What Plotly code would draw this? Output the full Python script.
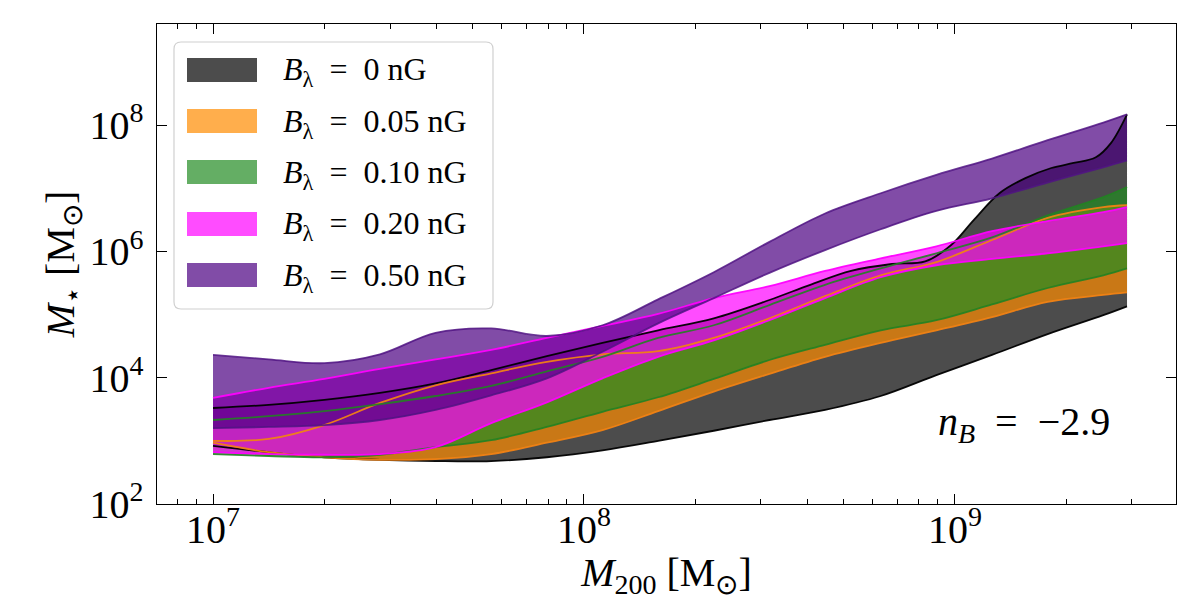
import numpy as np
import plotly.graph_objects as go

# ---------------- data (log10 values) ----------------
log_m200 = [7.0, 7.15, 7.3, 7.45, 7.6, 7.75, 7.9, 8.05, 8.2, 8.35, 8.5, 8.65,
            8.8, 8.95, 9.1, 9.25, 9.4, 9.464]

# B = 0 nG upper edge sampled on a finer grid (has a wiggle at high mass)
log_m200_b0_hi = [7.0, 7.15, 7.3, 7.45, 7.6, 7.75, 7.9, 8.05, 8.2, 8.35, 8.5,
                  8.61, 8.72, 8.83, 8.92, 8.99, 9.05, 9.12, 9.19, 9.26, 9.32,
                  9.38, 9.42, 9.464]

b0_lo = [2.92, 2.82, 2.74, 2.70, 2.68, 2.68, 2.74, 2.85, 3.00, 3.16, 3.33, 3.49,
         3.71, 4.04, 4.36, 4.69, 4.99, 5.13]
b0_hi = [3.52, 3.57, 3.65, 3.76, 3.91, 4.12, 4.34, 4.55, 4.75, 4.94, 5.23, 5.47,
         5.69, 5.80, 5.84, 6.10, 6.49, 6.92, 7.16, 7.32, 7.40, 7.49, 7.71, 8.17]

b005_lo = [2.97, 2.82, 2.74, 2.70, 2.71, 2.79, 2.97, 3.17, 3.47, 3.78, 4.06, 4.33,
           4.55, 4.75, 4.96, 5.20, 5.31, 5.35]
b005_hi = [3.00, 3.03, 3.25, 3.60, 3.88, 4.07, 4.25, 4.37, 4.42, 4.63, 4.94, 5.29,
           5.62, 5.83, 6.18, 6.53, 6.70, 6.73]

b010_lo = [2.79, 2.76, 2.74, 2.78, 2.90, 3.01, 3.22, 3.46, 3.69, 3.98, 4.28, 4.52,
           4.75, 4.91, 5.16, 5.42, 5.62, 5.73]
b010_hi = [3.33, 3.39, 3.47, 3.58, 3.71, 3.87, 4.10, 4.33, 4.63, 4.83, 5.15, 5.47,
           5.73, 5.97, 6.22, 6.57, 6.86, 7.02]

b020_lo = [2.82, 2.79, 2.78, 2.79, 2.90, 3.28, 3.61, 3.99, 4.33, 4.59, 4.91, 5.26,
           5.59, 5.78, 5.88, 5.97, 6.08, 6.13]
b020_hi = [3.68, 3.84, 3.98, 4.14, 4.29, 4.44, 4.63, 4.82, 5.01, 5.26, 5.45, 5.69,
           5.89, 6.08, 6.32, 6.48, 6.62, 6.70]

b050_lo = [3.20, 3.22, 3.25, 3.33, 3.49, 3.72, 3.99, 4.41, 4.86, 5.26, 5.66, 6.02,
           6.35, 6.64, 6.84, 7.09, 7.33, 7.44]
b050_hi = [4.36, 4.29, 4.23, 4.37, 4.71, 4.78, 4.66, 4.83, 5.24, 5.67, 6.15, 6.60,
           6.92, 7.21, 7.47, 7.76, 8.04, 8.17]

labels = ["0", "0.05", "0.10", "0.20", "0.50"]
colors_rgb = [(0, 0, 0), (255, 140, 0), (34, 139, 34), (255, 0, 255), (75, 0, 130)]
edge_rgba = ["rgba(0,0,0,0.95)", "rgba(240,130,20,0.95)", "rgba(34,130,34,0.9)",
             "rgba(255,0,255,0.95)", "rgba(80,20,130,0.85)"]
annot_text = "<i>n</i><sub><i>B</i></sub>\u2002=\u2002\u22122.9"

bands = [
    (log_m200, b0_lo, log_m200_b0_hi, b0_hi),
    (log_m200, b005_lo, log_m200, b005_hi),
    (log_m200, b010_lo, log_m200, b010_hi),
    (log_m200, b020_lo, log_m200, b020_hi),
    (log_m200, b050_lo, log_m200, b050_hi),
]

FONT = "Liberation Serif"
ALPHA = 0.7


def rgba(c, a):
    return f"rgba({c[0]},{c[1]},{c[2]},{a})"


fig = go.Figure()
# fills first
for (xl, yl, xh, yh), c in zip(bands, colors_rgb):
    fig.add_trace(go.Scatter(
        x=10 ** np.array(xl), y=10 ** np.array(yl), mode="lines",
        line=dict(color="rgba(0,0,0,0)", width=0, shape="spline"),
        showlegend=False, hoverinfo="skip"))
    fig.add_trace(go.Scatter(
        x=10 ** np.array(xh), y=10 ** np.array(yh), mode="lines",
        fill="tonexty", fillcolor=rgba(c, ALPHA),
        line=dict(color="rgba(0,0,0,0)", width=0, shape="spline"),
        showlegend=False, hoverinfo="skip"))
# edge lines on top
for (xl, yl, xh, yh), ec in zip(bands, edge_rgba):
    for xx, yy in ((xl, yl), (xh, yh)):
        fig.add_trace(go.Scatter(
            x=10 ** np.array(xx), y=10 ** np.array(yy), mode="lines",
            line=dict(color=ec, width=1.8, shape="spline"),
            showlegend=False, hoverinfo="skip"))

# ---------------- layout ----------------
L, R, T, B = 157, 24, 24, 96
W, H = 1200, 600
PW, PH = W - L - R, H - T - B


def px(xp):
    return (xp - L) / PW


def py(yp):
    return (H - B - yp) / PH


shapes = []
annotations = []

# legend frame (rounded)
x0, x1, y0, y1 = px(174), px(493), py(309), py(42)
rx, ry = 7 / PW, 7 / PH
path = (f"M {x0+rx},{y0} L {x1-rx},{y0} Q {x1},{y0} {x1},{y0+ry} "
        f"L {x1},{y1-ry} Q {x1},{y1} {x1-rx},{y1} L {x0+rx},{y1} "
        f"Q {x0},{y1} {x0},{y1-ry} L {x0},{y0+ry} Q {x0},{y0} {x0+rx},{y0} Z")
shapes.append(dict(type="path", xref="paper", yref="paper", path=path,
                   fillcolor="rgba(255,255,255,0.8)",
                   line=dict(color="#d0d0d0", width=1.2), layer="above"))

centers = [70, 121, 172, 224, 275]
for lab, c, cy in zip(labels, colors_rgb, centers):
    shapes.append(dict(type="rect", xref="paper", yref="paper",
                       x0=px(187), x1=px(257), y0=py(cy + 12), y1=py(cy - 12),
                       fillcolor=rgba(c, ALPHA), line=dict(width=0), layer="above"))
    annotations.append(dict(
        xref="paper", yref="paper", x=px(281), y=py(cy + 2),
        xanchor="left", yanchor="middle", showarrow=False,
        text=f"<i>B</i><sub>\u03bb</sub>\u2002=\u2002{lab} nG",
        font=dict(family=FONT, size=32, color="black")))

annotations.append(dict(
    xref="paper", yref="paper", x=px(1024), y=py(424),
    xanchor="center", yanchor="middle", showarrow=False,
    text=annot_text, font=dict(family=FONT, size=40, color="black")))

axis_common = dict(
    type="log", exponentformat="power", showgrid=False, zeroline=False,
    ticks="inside", ticklen=10, tickwidth=1.2, tickcolor="black",
    showline=True, linecolor="black", linewidth=1.3, mirror="ticks",
    tickfont=dict(family=FONT, size=32, color="black"), automargin=False,
)

fig.update_layout(
    width=W, height=H,
    margin=dict(l=L, r=R, t=T, b=B),
    plot_bgcolor="white", paper_bgcolor="white",
    font=dict(family=FONT, size=30, color="black"),
    showlegend=False,
    shapes=shapes, annotations=annotations,
    xaxis=dict(
        **axis_common, range=[6.849, 9.596], dtick=1, ticklabelstandoff=-9,
        minor=dict(ticks="inside", ticklen=5, tickwidth=1, tickcolor="black",
                   dtick="D1", showgrid=False),
        title=dict(text="<i>M</i><sub>200</sub> [M<sub>\u2299</sub>]",
                   font=dict(family=FONT, size=40), standoff=0),
    ),
    yaxis=dict(
        **axis_common, range=[2, 9.6], dtick=2, ticklabelstandoff=6,
        title=dict(text="<i>M</i><sub>\u22c6</sub> [M<sub>\u2299</sub>]",
                   font=dict(family=FONT, size=40), standoff=2),
    ),
)

fig.write_html("out.html",
               config={"displayModeBar": False},
               post_script="document.body.style.margin='0px';"
                           "document.body.style.overflow='hidden';")
